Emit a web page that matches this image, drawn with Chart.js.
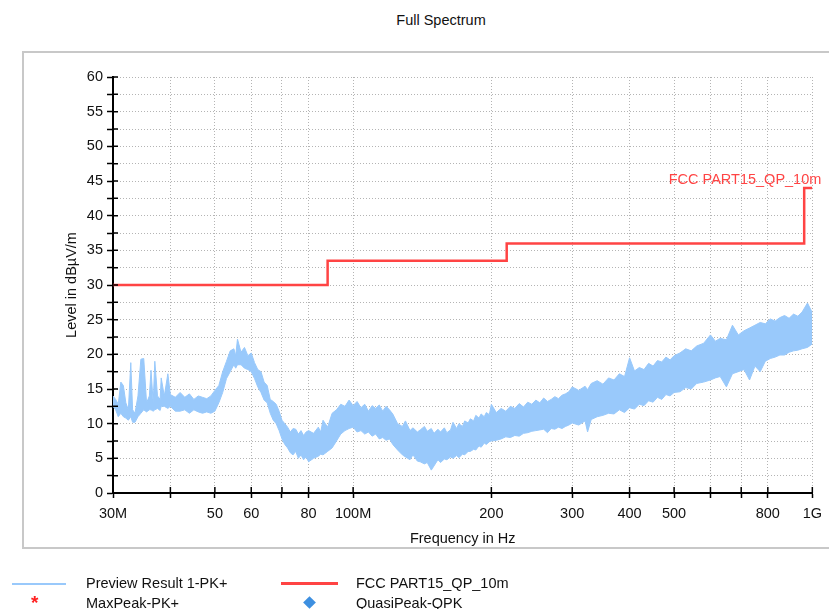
<!DOCTYPE html>
<html>
<head>
<meta charset="utf-8">
<script src="https://cdn.jsdelivr.net/npm/chart.js@4.4.1/dist/chart.umd.min.js"></script>
<style>
  body { margin: 0; width: 829px; height: 609px; overflow: hidden; background: #fff; position: relative;
    font-family: "Liberation Sans", Arial, sans-serif; color: #000; }
  #frame { position: absolute; left: 22px; top: 51px; width: 830px; height: 494px; border: 2px solid #c8c8c8; }
  #chart { position: absolute; left: 0; top: 0; }
  .txt { position: absolute; font-size: 14.5px; line-height: 16px; white-space: nowrap; color: #111; }
  .swatch { position: absolute; }
</style>
</head>
<body>
<div class="txt" style="left:441px;top:12px;transform:translateX(-50%)">Full Spectrum</div>
<div id="frame"></div>
<canvas id="chart" width="829" height="609"></canvas>

<div class="swatch" style="left:12px;top:583px;width:54px;height:1.5px;background:#99c9fb"></div>
<div class="txt" style="left:86px;top:575px">Preview Result 1-PK+</div>
<div class="swatch" style="left:281px;top:582px;width:57px;height:3px;background:#ff4444"></div>
<div class="txt" style="left:356px;top:575px">FCC PART15_QP_10m</div>
<div class="txt" style="left:31px;top:595px;color:#ff2020;font-size:19px;font-weight:bold">*</div>
<div class="txt" style="left:86px;top:595px">MaxPeak-PK+</div>
<div class="swatch" style="left:305px;top:598px;width:9px;height:9px;background:#3d8fe0;transform:rotate(45deg)"></div>
<div class="txt" style="left:356px;top:595px">QuasiPeak-QPK</div>

<script>
// preview trace, read as top / bottom edge of the noise band (MHz, dBµV/m)
const traceFreq = [
  30, 30.4, 30.8, 31.2, 31.6, 32.0, 32.4, 32.8, 33.1, 33.5, 34.0, 34.5, 35.0, 35.5, 36.0, 36.3, 36.7, 37.0, 37.5, 38.0,
  38.2, 38.8, 39.5, 40, 41, 42, 43, 44, 45, 46, 47, 48, 49,
  50, 51, 52, 53, 54, 55, 55.5, 56, 57, 58, 59, 60, 61, 62, 63, 64, 65, 66, 67, 68,
  69, 70, 71, 72, 73, 74, 75, 76, 77, 78, 79, 80, 82, 84, 85, 86, 88, 90, 92, 94, 96, 98,
  100, 102, 104, 106, 108, 110, 112, 114, 116, 118, 120, 122, 125, 128, 130, 133, 135, 138, 140, 143,
  145, 148, 150, 153, 155, 158, 160, 163, 165, 168, 170, 173, 175, 178, 180, 183, 185, 188, 190, 193, 195, 198,
  200, 205, 210, 215, 220, 225, 230, 235, 240, 245, 250, 255, 260, 265, 270, 275, 280, 285, 290, 295,
  300, 310, 320, 324, 330, 340, 350, 360, 370, 380, 390, 400, 410, 420, 430, 440, 450, 460, 470, 480,
  490, 500, 515, 530, 545, 560, 580, 600, 615, 630, 650, 670, 690, 710, 730, 750, 770, 790, 810, 830,
  850, 870, 890, 910, 930, 950, 976, 1000,
];
const traceUpper = [
  14, 13.5, 12.8, 16, 15.5, 13, 12, 18.8, 12, 11.5, 14, 19.3, 19.4, 13, 14, 17.7, 13, 19, 14, 13.5,
  16.6, 14, 17.2, 14.2, 13.8, 14.5, 13.8, 14.3, 13.5, 14, 13.8, 13.6, 14,
  14.8, 15.5, 17.5, 19, 20.5, 20.8, 19.8, 22.2, 20.3, 21, 19.8, 20.2, 18.8, 17.8, 17.5, 16, 15.5, 13.5, 13.2, 12.8,
  11.8, 10.5, 10, 9.5, 8.8, 9.3, 9.2, 8.5, 9, 8.3, 8.8, 9, 8.6, 9.5, 8.8, 10.5, 9.5, 11.5, 12, 12.8, 12.5, 13.4,
  12.6, 13.2, 12.3, 12.8, 11.8, 12.6, 12.2, 12.7, 11.8, 12.5, 12, 11.4, 10, 9.6, 10.4, 9, 9.4, 8.8, 9.1, 9.6,
  8.9, 9.3, 8.6, 9.2, 8.8, 9.4, 8.7, 9.1, 10.2, 9.3, 10, 9.6, 10.4, 10.1, 10.7, 10.4, 11.2, 10.8, 11.4, 11, 11.6, 11.3,
  12.8, 11.6, 12.2, 11.8, 12.5, 12.2, 12.9, 12.4, 13.1, 12.8, 13.4, 13, 13.7, 13.2, 13.5, 13.9, 13.6, 14.1, 14.3, 14.6,
  15.3, 14.8, 15.4, 14.9, 15.8, 16.2, 15.7, 16.6, 16.3, 17.2, 16.8, 19.5, 17.6, 18.1, 17.8, 18.7, 18.3, 19.1, 18.9, 19.6,
  19.2, 19.8, 20.2, 20.8, 20.5, 21.2, 21.6, 22.8, 21.9, 22.3, 22.1, 24.2, 22.8, 23.4, 23.8, 24.2, 24.6, 24.4, 25.1, 24.8,
  25.3, 25.6, 25.2, 25.8, 25.5, 26.1, 27.4, 26,
];
const traceLower = [
  12.5, 12, 11, 11.5, 11, 10.8, 10.5, 11, 10.2, 10.2, 11, 11.5, 12, 11.7, 12, 12, 11.8, 12, 12.2, 11.9,
  12.5, 12.5, 12.2, 12.5, 11.8, 11.8, 12, 11.5, 12, 11.7, 11.5, 11.7, 11.5,
  11.8, 13, 14.5, 16.5, 17.5, 18.5, 18, 18.5, 18.5, 18, 17.8, 17.5, 16.5, 15.3, 14.5, 13.4, 13, 11.5, 10.5, 10,
  9, 7.8, 7, 6.5, 5.8, 5.5, 6, 5, 5.5, 4.8, 5.2, 4.5, 5, 5.3, 5.6, 5.5, 6, 6.5, 7.5, 8.5, 9, 9.3,
  9.5, 8.8, 9, 8.5, 8.8, 8.2, 8.5, 7.8, 8, 7.6, 7.8, 7, 6.2, 5.5, 5.2, 4.8, 5.5, 4.6, 4.5, 4.2,
  4.4, 3.3, 3.9, 4.8, 4.4, 4.9, 4.8, 5.2, 5, 5.4, 5.1, 5.6, 5.5, 6, 6, 6.3, 6.2, 6.8, 6.6, 7.2, 7, 7.4,
  7.5, 7.6, 7.8, 8.1, 8, 8.3, 8.2, 8.6, 8.7, 8.9, 9, 9.1, 9.2, 8.7, 9.3, 9.2, 9.5, 9.3, 9.6, 9.8,
  10.1, 9.8, 10.4, 8.8, 10.6, 11, 11.2, 11.5, 11.4, 12, 11.6, 12.3, 12.1, 12.8, 12.6, 13.3, 13.1, 13.8, 13.5, 14.2,
  14, 14.5, 14.6, 15.2, 15, 15.8, 16, 16.3, 16.6, 16.8, 15.3, 17.2, 17.5, 17.8, 16.3, 18.3, 17.5, 19, 19.4, 19.6,
  19.9, 19.9, 20.3, 20.5, 20.6, 20.8, 21, 21.5,
];

// FCC part 15 QP limit at 10 m
const limitName = "FCC PART15_QP_10m";
const limitFreq = [30, 88, 88, 216, 216, 960, 960, 1000];
const limitLevel = [30, 30, 33.5, 33.5, 36, 36, 44, 44];

const xTickValues = [30, 40, 50, 60, 70, 80, 100, 200, 300, 400, 500, 600, 700, 800, 1000];
const xTickLabels = ["30M", "", "50", "60", "", "80", "100M", "200", "300", "400", "500", "", "", "800", "1G"];
const yTickValues = [0, 2.5, 5, 7.5, 10, 12.5, 15, 17.5, 20, 22.5, 25, 27.5, 30, 32.5, 35, 37.5, 40, 42.5, 45, 47.5, 50, 52.5, 55, 57.5, 60];

const traceColor = "#99c9fb";
const limitColor = "#ff4444";
const gridColor = "#b4b4b4";
const font = { family: "'Liberation Sans', Arial, sans-serif", size: 14.5 };

// tick marks poke into the plot too, plus the limit line name
const innerTicks = {
  id: "innerTicks",
  afterDraw(chart) {
    const { ctx, scales: { x, y } } = chart;
    ctx.save();
    ctx.strokeStyle = "#000";
    ctx.lineWidth = 1.5;
    ctx.beginPath();
    y.ticks.forEach((t) => {
      const py = y.getPixelForValue(t.value);
      ctx.moveTo(x.left, py);
      ctx.lineTo(x.left + 5, py);
    });
    x.ticks.forEach((t) => {
      const px = x.getPixelForValue(t.value);
      ctx.moveTo(px, y.bottom);
      ctx.lineTo(px, y.bottom - 6);
    });
    ctx.stroke();

    const last = limitFreq.length - 1;
    ctx.fillStyle = limitColor;
    ctx.font = `${font.size}px ${font.family}`;
    ctx.textAlign = "right";
    ctx.textBaseline = "middle";
    ctx.fillText(limitName, x.getPixelForValue(limitFreq[last]) + 9, y.getPixelForValue(limitLevel[last]) - 8);
    ctx.restore();
  },
};

const ctx = document.getElementById("chart").getContext("2d");
new Chart(ctx, {
  type: "line",
  data: {
    datasets: [
      {
        label: limitName,
        data: limitFreq.map((f, i) => ({ x: f, y: limitLevel[i] })),
        borderColor: limitColor,
        borderWidth: 2.5,
        pointRadius: 0,
        tension: 0,
        order: 0,
      },
      {
        label: "Preview Result 1-PK+",
        data: traceFreq.map((f, i) => ({ x: f, y: traceUpper[i] })),
        borderColor: traceColor,
        backgroundColor: traceColor,
        borderWidth: 1,
        pointRadius: 0,
        tension: 0,
        fill: "+1",
        order: 1,
      },
      {
        label: "low",
        data: traceFreq.map((f, i) => ({ x: f, y: traceLower[i] })),
        borderColor: traceColor,
        borderWidth: 1,
        pointRadius: 0,
        tension: 0,
        fill: false,
        order: 2,
      },
    ],
  },
  options: {
    responsive: false,
    animation: false,
    devicePixelRatio: 1,
    layout: { padding: { left: 53, right: 16, top: 77, bottom: 56 } },
    plugins: { legend: { display: false }, tooltip: { enabled: false } },
    scales: {
      x: {
        type: "logarithmic",
        min: 30,
        max: 1000,
        afterBuildTicks: (s) => { s.ticks = xTickValues.map((v) => ({ value: v })); },
        afterFit: (s) => { s.height = 60; },
        ticks: {
          autoSkip: false,
          maxRotation: 0,
          padding: 7,
          color: "#111",
          font,
          callback: (v) => xTickLabels[xTickValues.indexOf(v)] ?? "",
        },
        grid: { color: gridColor, lineWidth: 1, tickColor: "#000", tickLength: 5, tickWidth: 1.5 },
        border: { color: "#000", width: 2, dash: [1, 2] },
        title: { display: true, text: "Frequency in Hz", color: "#111", font, padding: { top: 0, bottom: 5 } },
      },
      y: {
        type: "linear",
        min: 0,
        max: 60,
        afterBuildTicks: (s) => { s.ticks = yTickValues.map((v) => ({ value: v })); },
        afterFit: (s) => { s.width = 60; },
        ticks: {
          autoSkip: false,
          padding: 4,
          color: "#111",
          font,
          callback: (v) => (v % 5 === 0 ? String(v) : ""),
        },
        grid: { color: gridColor, lineWidth: 1, tickColor: "#000", tickLength: 6, tickWidth: 1.5 },
        border: { color: "#000", width: 2, dash: [1, 2] },
        title: { display: true, text: "Level in dBµV/m", color: "#111", font, padding: { top: 10, bottom: 0 } },
      },
    },
  },
  plugins: [innerTicks],
});
</script>
</body>
</html>
